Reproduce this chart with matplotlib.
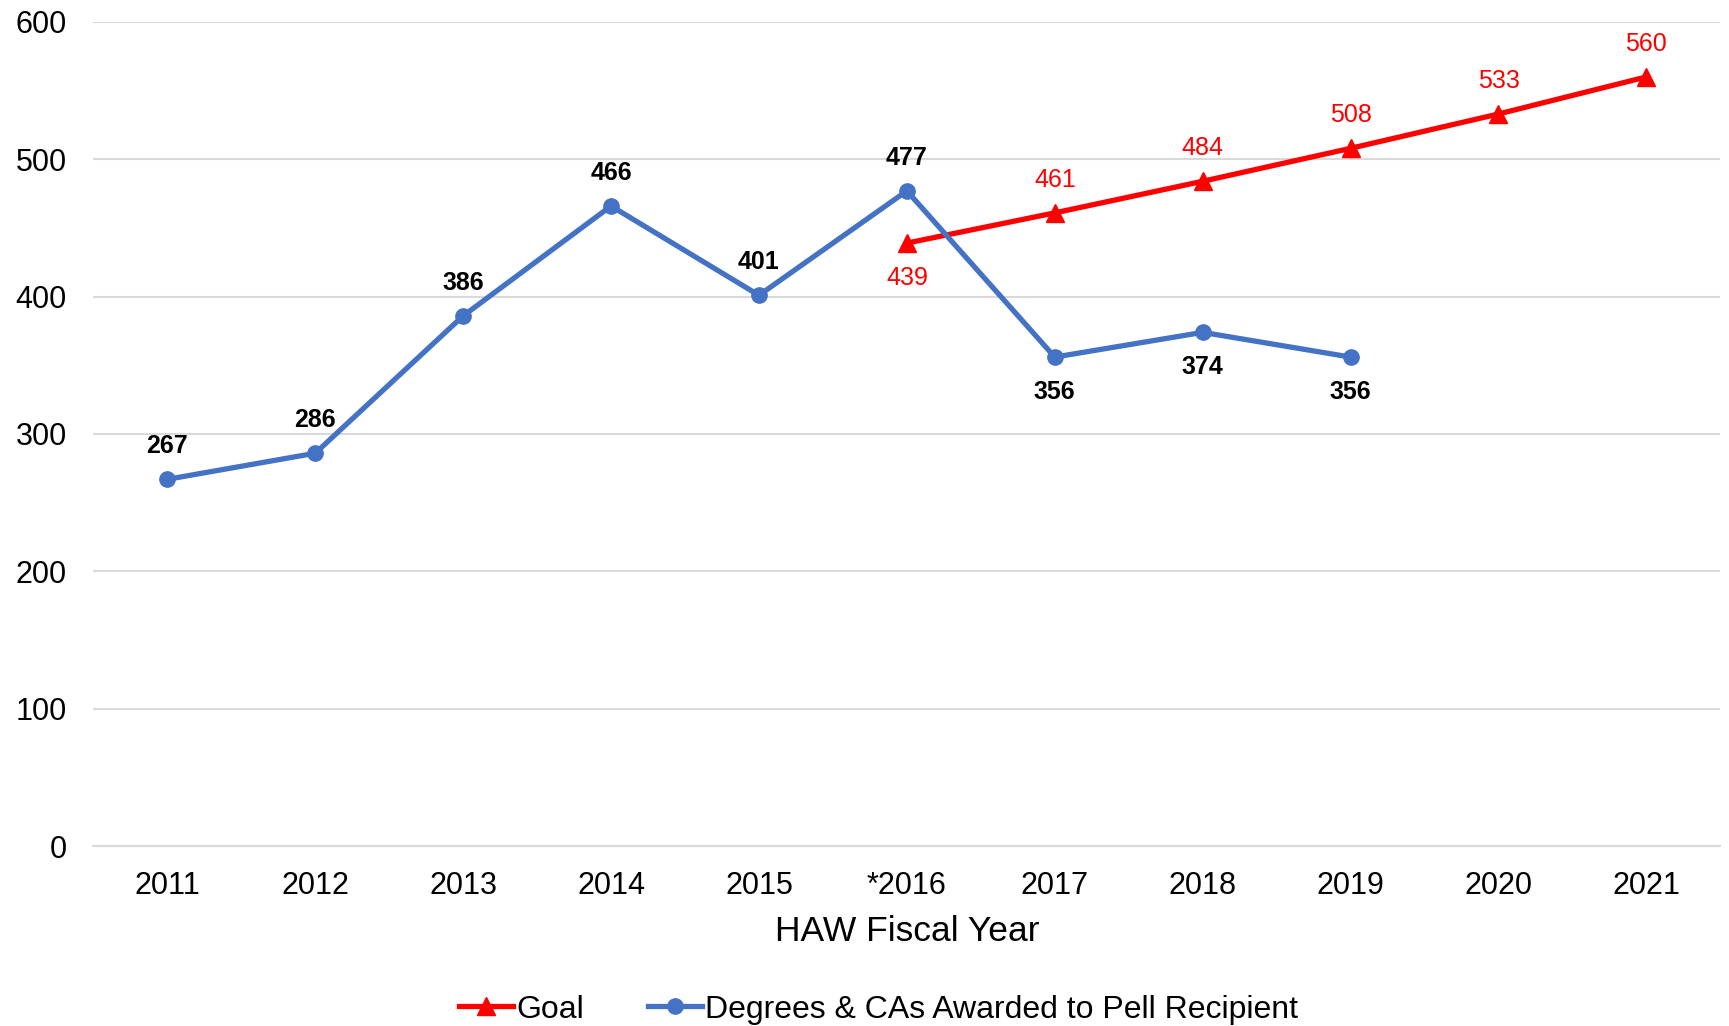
import numpy as np
import matplotlib.pyplot as plt

plt.rcParams['font.family'] = ['Liberation Sans', 'DejaVu Sans']

years = ['2011', '2012', '2013', '2014', '2015', '*2016', '2017', '2018', '2019', '2020', '2021']
pell = [267, 286, 386, 466, 401, 477, 356, 374, 356]
goal_idx = [5, 6, 7, 8, 9, 10]
goal = [439, 461, 484, 508, 533, 560]

# which labels go below the point
pell_below = [False, False, False, False, False, False, True, True, True]
goal_below = [True, False, False, False, False, False]

fig, ax = plt.subplots(figsize=(17.29, 10.26), dpi=100)
fig.subplots_adjust(left=0.054, right=0.995, top=0.9786, bottom=0.1754)

x = np.arange(len(years))
blue = '#4472C4'
red = '#FF0000'

l_goal, = ax.plot(goal_idx, goal, color=red, lw=3.8, marker='^', ms=13,
                  label='Goal', zorder=3)
l_pell, = ax.plot(x[:len(pell)], pell, color=blue, lw=3.8, marker='o', ms=11,
                  label='Degrees & CAs Awarded to Pell Recipient', zorder=4)

for xi, v, b in zip(x, pell, pell_below):
    ax.annotate(str(v), (xi, v), xytext=(0, -25 if b else 24), textcoords='offset points',
                ha='center', va='center', fontsize=18, fontweight='bold', color='black')
for xi, v, b in zip(goal_idx, goal, goal_below):
    ax.annotate(str(v), (xi, v), xytext=(0, -25 if b else 24), textcoords='offset points',
                ha='center', va='center', fontsize=18, color=red)

ax.set_xlim(-0.5, len(years) - 0.5)
ax.set_ylim(0, 600)
ax.set_yticks(range(0, 601, 100))
ax.set_xticks(x)
ax.set_xticklabels(years)
ax.tick_params(axis='both', length=0, labelsize=22, colors='black')
ax.tick_params(axis='x', pad=18)
ax.tick_params(axis='y', pad=19)
ax.grid(axis='y', color='#d9d9d9', lw=1.5)
ax.set_axisbelow(True)
for s in ['top', 'right', 'left']:
    ax.spines[s].set_visible(False)
ax.spines['bottom'].set_color('#d9d9d9')
ax.spines['bottom'].set_linewidth(1.5)

ax.set_xlabel('HAW Fiscal Year', fontsize=25.5, labelpad=10)

fig.legend(handles=[l_goal, l_pell], loc='center', bbox_to_anchor=(0.508, 0.016),
           ncol=2, frameon=False, fontsize=23, handlelength=1.7, handletextpad=0.1,
           columnspacing=2.0)

fig.savefig('out.png', dpi=100)
